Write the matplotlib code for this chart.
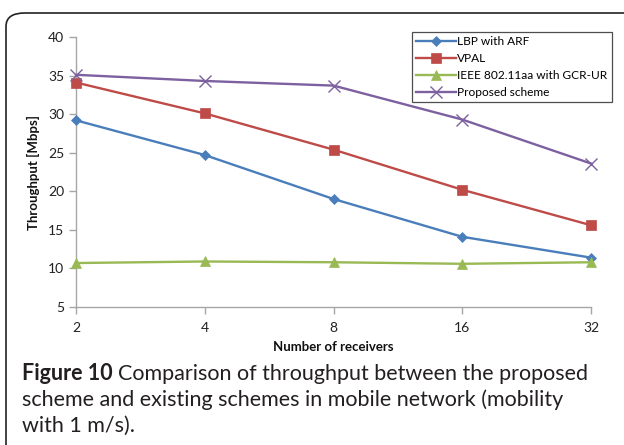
import numpy as np
import matplotlib.pyplot as plt
from matplotlib.patches import FancyBboxPatch

# throughput [Mbps] per number of receivers
receivers = ["2", "4", "8", "16", "32"]
lbp_arf = [29.2, 24.7, 19.0, 14.1, 11.4]
vpal = [34.1, 30.1, 25.4, 20.2, 15.6]
ieee_gcr = [10.7, 10.9, 10.8, 10.6, 10.8]
proposed = [35.1, 34.3, 33.7, 29.3, 23.6]
yticks = [5, 10, 15, 20, 25, 30, 35, 40]

W, H = 624, 445
fig = plt.figure(figsize=(W / 100, H / 100), dpi=100)
plt.rcParams['font.family'] = ['Lato', 'DejaVu Sans']

# rounded frame around the figure panel
frame = FancyBboxPatch((6 / W, 1 - 13 / H - 1.2), 1.2, 1.2,
                       boxstyle="round,pad=0,rounding_size=0.03",
                       transform=fig.transFigure, fill=False,
                       edgecolor="#222222", linewidth=1.2)
fig.patches.append(frame)

ax = fig.add_axes([76 / W, 1 - 307 / H, (591 - 76) / W, (307 - 37) / H])
x = np.arange(len(receivers))

series = [
    (lbp_arf, "LBP with ARF", "#4a7ebb", "D", 5.5),
    (vpal, "VPAL", "#be4b48", "s", 7.5),
    (ieee_gcr, "IEEE 802.11aa with GCR-UR", "#98b954", "^", 7.5),
    (proposed, "Proposed scheme", "#7d60a0", "x", 8),
]
for vals, name, col, mk, ms in series:
    ax.plot(x, vals, color=col, marker=mk, markersize=ms, linewidth=1.7,
            markeredgecolor=col, markeredgewidth=1.0 if mk == "x" else 0.5,
            label=name, clip_on=False, zorder=3)

ax.set_xlim(0, len(receivers) - 1)
ax.set_ylim(5, 40)
ax.set_xticks(x)
ax.set_xticklabels(receivers)
ax.set_yticks(yticks)
for s in ["top", "right"]:
    ax.spines[s].set_visible(False)
for s in ["left", "bottom"]:
    ax.spines[s].set_color("#a6a6a6")
    ax.spines[s].set_linewidth(1.0)
ax.tick_params(axis="both", colors="#a6a6a6", labelcolor="#222222",
               labelsize=10, length=5, width=1.0)
ax.tick_params(axis="x", pad=6)

ax.set_xlabel("Number of receivers", fontsize=9.5, fontweight="bold",
              color="#111111", labelpad=5)
ax.set_ylabel("Throughput [Mbps]", fontsize=9.5, fontweight="bold",
              color="#111111", labelpad=6)

leg = ax.legend(loc="upper left", bbox_to_anchor=((412 - 76) / (591 - 76), 1 + 5 / 270),
                fontsize=8.6, frameon=True, fancybox=False, handlelength=3.3,
                handletextpad=0.15, borderpad=0.35, labelspacing=0.5,
                borderaxespad=0)
leg.get_frame().set_edgecolor("#222222")
leg.get_frame().set_linewidth(0.9)

# caption below the chart
cap = dict(fontsize=15.5, color="#231f20", va="baseline")
t = fig.text(22 / W, 1 - 380 / H, "Figure 10", fontweight="bold", **cap)
fig.canvas.draw()
bb = t.get_window_extent()
fig.text(bb.x1 / W + 5 / W, 1 - 380 / H,
         "Comparison of throughput between the proposed", **cap)
fig.text(22 / W, 1 - 406 / H,
         "scheme and existing schemes in mobile network (mobility", **cap)
fig.text(22 / W, 1 - 432 / H, "with 1 m/s).", **cap)

fig.savefig("out.png", dpi=100)
